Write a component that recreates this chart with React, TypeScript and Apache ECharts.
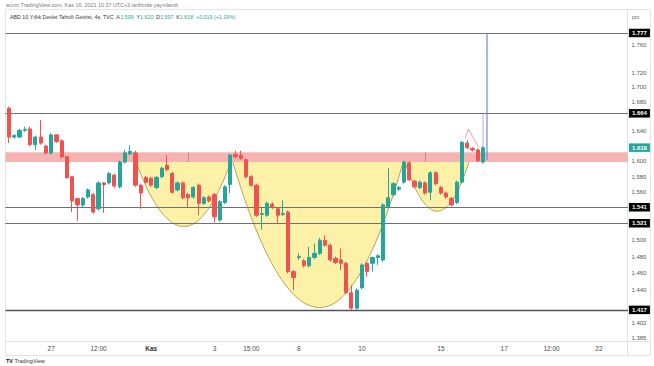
import React, { useEffect, useRef } from "react";
import * as echarts from "echarts";

// ---- candle data (4h bars) ----
const opens = [
  1.671, 1.632, 1.632, 1.641, 1.643, 1.622, 1.632, 1.620, 1.611, 1.635,
  1.627, 1.606, 1.580, 1.552, 1.544, 1.554, 1.557, 1.539, 1.572, 1.572,
  1.582, 1.567, 1.599, 1.610, 1.611, 1.569, 1.579, 1.578, 1.566, 1.580,
  1.595, 1.584, 1.563, 1.572, 1.557, 1.554, 1.569, 1.546, 1.554, 1.557,
  1.525, 1.547, 1.570, 1.609, 1.608, 1.602, 1.580, 1.569, 1.532, 1.531,
  1.545, 1.539, 1.532, 1.535, 1.462, 1.479, 1.475, 1.469, 1.479, 1.484,
  1.500, 1.494, 1.478, 1.476, 1.472, 1.437, 1.419, 1.443, 1.472, 1.472,
  1.479, 1.476, 1.542, 1.557, 1.564, 1.573, 1.598, 1.574, 1.566, 1.572,
  1.560, 1.585, 1.566, 1.559, 1.552, 1.547, 1.573, 1.624, 1.617, 1.615,
  1.599,
];
const highs = [
  1.673, 1.636, 1.643, 1.646, 1.646, 1.634, 1.655, 1.622, 1.637, 1.636,
  1.629, 1.607, 1.581, 1.553, 1.554, 1.565, 1.559, 1.574, 1.573, 1.586,
  1.584, 1.601, 1.615, 1.621, 1.614, 1.571, 1.581, 1.580, 1.581, 1.593,
  1.608, 1.586, 1.574, 1.574, 1.559, 1.568, 1.571, 1.555, 1.556, 1.559,
  1.550, 1.569, 1.610, 1.614, 1.614, 1.604, 1.582, 1.571, 1.540, 1.548,
  1.547, 1.541, 1.550, 1.537, 1.464, 1.484, 1.477, 1.492, 1.496, 1.503,
  1.506, 1.496, 1.480, 1.490, 1.474, 1.446, 1.442, 1.472, 1.474, 1.480,
  1.483, 1.546, 1.591, 1.573, 1.568, 1.601, 1.600, 1.576, 1.575, 1.574,
  1.587, 1.587, 1.568, 1.561, 1.554, 1.575, 1.627, 1.628, 1.619, 1.617,
  1.620,
];
const lows = [
  1.624, 1.630, 1.631, 1.639, 1.620, 1.615, 1.622, 1.609, 1.609, 1.624,
  1.604, 1.577, 1.535, 1.524, 1.541, 1.552, 1.533, 1.537, 1.534, 1.570,
  1.566, 1.565, 1.597, 1.608, 1.567, 1.539, 1.571, 1.567, 1.564, 1.578,
  1.587, 1.558, 1.561, 1.551, 1.540, 1.552, 1.531, 1.544, 1.547, 1.522,
  1.523, 1.545, 1.559, 1.604, 1.602, 1.578, 1.567, 1.529, 1.513, 1.529,
  1.539, 1.520, 1.530, 1.460, 1.440, 1.476, 1.467, 1.467, 1.477, 1.482,
  1.492, 1.474, 1.471, 1.464, 1.435, 1.417, 1.417, 1.441, 1.456, 1.462,
  1.470, 1.474, 1.540, 1.555, 1.562, 1.571, 1.574, 1.565, 1.564, 1.557,
  1.550, 1.569, 1.557, 1.552, 1.542, 1.545, 1.571, 1.616, 1.613, 1.599,
  1.597,
];
const closes = [
  1.632, 1.634, 1.641, 1.642, 1.622, 1.632, 1.624, 1.611, 1.635, 1.626,
  1.606, 1.579, 1.549, 1.544, 1.552, 1.563, 1.535, 1.572, 1.570, 1.584,
  1.568, 1.599, 1.611, 1.613, 1.569, 1.559, 1.573, 1.569, 1.579, 1.591,
  1.589, 1.560, 1.572, 1.553, 1.553, 1.566, 1.546, 1.553, 1.549, 1.529,
  1.548, 1.567, 1.608, 1.606, 1.604, 1.580, 1.569, 1.531, 1.533, 1.546,
  1.541, 1.531, 1.533, 1.462, 1.455, 1.480, 1.469, 1.479, 1.484, 1.500,
  1.494, 1.476, 1.473, 1.472, 1.437, 1.419, 1.440, 1.470, 1.462, 1.479,
  1.481, 1.544, 1.553, 1.571, 1.566, 1.599, 1.576, 1.567, 1.573, 1.559,
  1.585, 1.571, 1.559, 1.554, 1.544, 1.573, 1.625, 1.618, 1.615, 1.601,
  1.618,
];

// ---- axes ----
const slotCount = 118;
const xLabelIndex = [8, 17, 27, 39, 46, 55, 67, 82, 94, 103, 112];
const xLabelText = ["27", "12:00", "Kas", "3", "15:00", "8", "10", "15", "17", "12:00", "22"];
const yTickValues = [1.76, 1.72, 1.7, 1.68, 1.64, 1.6, 1.58, 1.56, 1.5, 1.48, 1.46, 1.44, 1.402, 1.385];
const yMin = 1.3814;
const yMax = 1.8107;

// ---- drawings ----
const levelValues = [1.777, 1.664, 1.541, 1.521, 1.417];
const lastPrice = 1.618;
const bandLow = 1.599;
const bandHigh = 1.612;
const bandMarkIdx = [34, 79];
const cupStart = [23.9, 42.3, 75.0];
const cupEnd = [42.3, 75.0, 87.5];
const cupLowIdx = [33.2, 59.0, 81.3];
const cupLowPrice = [1.517, 1.4197, 1.536];
const cupRimPrice = 1.603;
const redPathIdx = [86.6, 87.2, 89.2];
const redPathPrice = [1.63, 1.643, 1.618];
const lightBlueIdx = 90.0;
const lightBlueFrom = 1.618;
const lightBlueTo = 1.663;
const targetIdx = 90.75;
const targetFrom = 1.602;
const targetTo = 1.777;

const FONT = '"Liberation Sans", Arial, sans-serif';
const UP = "#26a69a";
const DOWN = "#ef5350";

function frame(api: any, price: number) {
  const a = api.coord([0, price]);
  const b = api.coord([1, price]);
  const bw = b[0] - a[0];
  const xOf = (i: number) => a[0] + bw * i;
  return { y: a[1], bw, xOf, left: a[0] - bw / 2, right: a[0] + bw * (slotCount - 0.5) };
}

export default function App() {
  const ref = useRef<HTMLDivElement>(null);

  useEffect(() => {
    if (!ref.current) return;
    const chart = echarts.init(ref.current, undefined, { renderer: "svg" });
    const slotNames = Array.from({ length: slotCount }, (_, i) => "s" + i);
    const candles = opens.map((o, i) => [o, closes[i], lows[i], highs[i]]);

    const option: any = {
      animation: false,
      backgroundColor: "#ffffff",
      grid: { left: 6.4, right: 26.1, top: 10, bottom: 25, containLabel: false },
      xAxis: {
        type: "category",
        data: slotNames,
        boundaryGap: true,
        axisLine: { show: false },
        axisTick: { show: false },
        splitLine: { show: false },
        axisLabel: {
          interval: (index: number) => xLabelIndex.indexOf(index) >= 0,
          formatter: (_v: string, index: number) => {
            const k = xLabelIndex.indexOf(index);
            if (k < 0) return "";
            const t = xLabelText[k];
            return t === "Kas" ? "{b|" + t + "}" : t;
          },
          rich: { b: { fontWeight: "bold", fontSize: 6.5, color: "#333", fontFamily: FONT } },
          color: "#4a4a4a",
          fontSize: 6.5,
          fontFamily: FONT,
          margin: 4,
        },
      },
      yAxis: {
        type: "log",
        logBase: 10,
        min: yMin,
        max: yMax,
        position: "right",
        axisLine: { show: false },
        axisTick: { show: false },
        axisLabel: { show: false },
        splitLine: { show: false },
      },
      graphic: [
        {
          type: "rect",
          shape: { x: 5.5, y: 9.5, width: 645, height: 346 },
          style: { fill: null, stroke: "#e0e3eb", lineWidth: 1 },
          silent: true,
          z: 0,
        },
        {
          type: "line",
          shape: { x1: 627.5, y1: 9.5, x2: 627.5, y2: 355.5 },
          style: { stroke: "#e0e3eb", lineWidth: 1 },
          silent: true,
        },
        {
          type: "line",
          shape: { x1: 5.5, y1: 341.5, x2: 650.5, y2: 341.5 },
          style: { stroke: "#e0e3eb", lineWidth: 1 },
          silent: true,
        },
        {
          type: "text",
          x: 6,
          y: 2,
          style: {
            text: "acmn TradingView.com, Kas 16, 2021 10:37 UTC+3 tarihinde yayınlandı",
            fill: "#7a7a7a",
            fontSize: 5.4,
            fontFamily: FONT,
          },
        },
        {
          type: "text",
          x: 10,
          y: 14,
          style: {
            text:
              "{d|ABD 10 Yıllık Devlet Tahvili Getirisi, 4s, TVC  A}{v|1.599}{d|  Y}{v|1.620}{d|  D}{v|1.597}{d|  K}{v|1.618}{v|  +0.019 (+1.19%)}",
            rich: {
              d: { fill: "#333", fontSize: 5.3, fontFamily: FONT },
              v: { fill: UP, fontSize: 5.3, fontFamily: FONT },
            },
          },
        },
        {
          type: "text",
          x: 632,
          y: 14,
          style: { text: "pct", fill: "#666", fontSize: 5.5, fontFamily: FONT },
        },
        {
          type: "text",
          x: 6,
          y: 358,
          style: {
            text: "{b|TV} TradingView",
            rich: {
              b: { fill: "#131722", fontWeight: "bold", fontSize: 5.5, fontFamily: FONT },
            },
            fill: "#333",
            fontSize: 5.5,
            fontFamily: FONT,
          },
        },
      ],
      series: [
        {
          // yellow cups
          type: "custom",
          z: 1,
          silent: true,
          encode: { x: 0, y: 1 },
          data: cupStart.map((_, k) => [k, cupRimPrice]),
          renderItem: (params: any, api: any) => {
            const k = params.dataIndex;
            const f = frame(api, cupRimPrice);
            const xl = f.xOf(cupStart[k]);
            const xr = f.xOf(cupEnd[k]);
            const xm = f.xOf(cupLowIdx[k]);
            const yb = api.coord([0, cupLowPrice[k]])[1];
            const rim = f.y;
            const pts: number[][] = [];
            const n = 30;
            for (let s = 0; s <= n; s++) {
              const t = s / n;
              const u = 1 - t;
              pts.push([xl + (xm - xl) * t, yb - (yb - rim) * u * u]);
            }
            for (let s = 1; s <= n; s++) {
              const t = s / n;
              pts.push([xm + (xr - xm) * t, yb - (yb - rim) * t * t]);
            }
            return {
              type: "group",
              children: [
                { type: "polygon", shape: { points: pts }, style: { fill: "#fcf1a6", stroke: null } },
                { type: "polyline", shape: { points: pts }, style: { stroke: "#b3a35a", lineWidth: 1, fill: null } },
              ],
            };
          },
        },
        {
          // pink band
          type: "custom",
          z: 2,
          silent: true,
          encode: { x: 0, y: 1 },
          data: [[0, bandHigh]],
          renderItem: (_params: any, api: any) => {
            const f = frame(api, bandHigh);
            const yl = api.coord([0, bandLow])[1];
            const children: any[] = [
              {
                type: "rect",
                shape: { x: f.left - 1, y: f.y, width: f.right - f.left + 1, height: yl - f.y },
                style: { fill: "#f7b3b1" },
              },
            ];
            bandMarkIdx.forEach((i) => {
              const x = Math.round(f.xOf(i)) + 0.5;
              children.push({
                type: "line",
                shape: { x1: x, y1: f.y, x2: x, y2: yl },
                style: { stroke: "#c98c8a", lineWidth: 1 },
              });
            });
            return { type: "group", children };
          },
        },
        {
          // horizontal levels
          type: "custom",
          z: 3,
          silent: true,
          encode: { x: 0, y: 1 },
          data: levelValues.map((v) => [0, v]),
          renderItem: (_params: any, api: any) => {
            const v = api.value(1);
            const f = frame(api, v);
            const y = Math.round(f.y) + 0.5;
            const isLow = v === levelValues[levelValues.length - 1];
            return {
              type: "group",
              children: [
                {
                  type: "line",
                  shape: { x1: f.left - 1, y1: y, x2: f.right, y2: y },
                  style: { stroke: isLow ? "#555" : "#707070", lineWidth: isLow ? 1.4 : 1 },
                },
              ],
            };
          },
        },
        {
          type: "candlestick",
          z: 5,
          barWidth: 3.7,
          data: candles,
          itemStyle: {
            color: UP,
            color0: DOWN,
            borderColor: UP,
            borderColor0: DOWN,
            borderWidth: 1,
          },
        },
        {
          // projection lines
          type: "custom",
          z: 6,
          silent: true,
          encode: { x: 0, y: 1 },
          data: [[0, targetTo]],
          renderItem: (_params: any, api: any) => {
            const f = frame(api, targetTo);
            const red = redPathIdx.map((i, k) => [f.xOf(i), api.coord([0, redPathPrice[k]])[1]]);
            const lbx = f.xOf(lightBlueIdx);
            const tx = f.xOf(targetIdx);
            return {
              type: "group",
              children: [
                { type: "polyline", shape: { points: red }, style: { stroke: "#f08a8a", lineWidth: 0.8, fill: null } },
                {
                  type: "line",
                  shape: { x1: lbx, y1: api.coord([0, lightBlueFrom])[1], x2: lbx, y2: api.coord([0, lightBlueTo])[1] },
                  style: { stroke: "#9fb0ef", lineWidth: 1 },
                },
                {
                  type: "line",
                  shape: { x1: tx, y1: api.coord([0, targetFrom])[1], x2: tx, y2: f.y },
                  style: { stroke: "#6f86e8", lineWidth: 1.2 },
                },
              ],
            };
          },
        },
        {
          // price scale tick labels
          type: "custom",
          z: 7,
          silent: true,
          encode: { x: 0, y: 1 },
          data: yTickValues.map((v) => [0, v]),
          renderItem: (_params: any, api: any) => {
            const v = api.value(1);
            const f = frame(api, v);
            return {
              type: "text",
              x: f.right + 3.5,
              y: f.y,
              style: {
                text: v.toFixed(3),
                fill: "#555",
                fontSize: 6,
                fontFamily: FONT,
                align: "left",
                verticalAlign: "middle",
              },
            };
          },
        },
        {
          // price badges
          type: "custom",
          z: 8,
          silent: true,
          encode: { x: 0, y: 1 },
          data: levelValues.concat([lastPrice]).map((v) => [0, v]),
          renderItem: (_params: any, api: any) => {
            const v = api.value(1);
            const f = frame(api, v);
            const isLast = v === lastPrice;
            return {
              type: "text",
              x: f.right + 1,
              y: f.y,
              style: {
                text: v.toFixed(3),
                fill: "#ffffff",
                fontSize: 6,
                fontWeight: "bold",
                fontFamily: FONT,
                backgroundColor: isLast ? UP : "#000000",
                padding: [1.5, 3, 1, 3],
                align: "left",
                verticalAlign: "middle",
              },
            };
          },
        },
      ],
    };

    chart.setOption(option);
    return () => chart.dispose();
  }, []);

  return (
    <div
      ref={ref}
      style={{ position: "fixed", left: 0, top: 0, width: 654, height: 366, background: "#fff" }}
    />
  );
}
